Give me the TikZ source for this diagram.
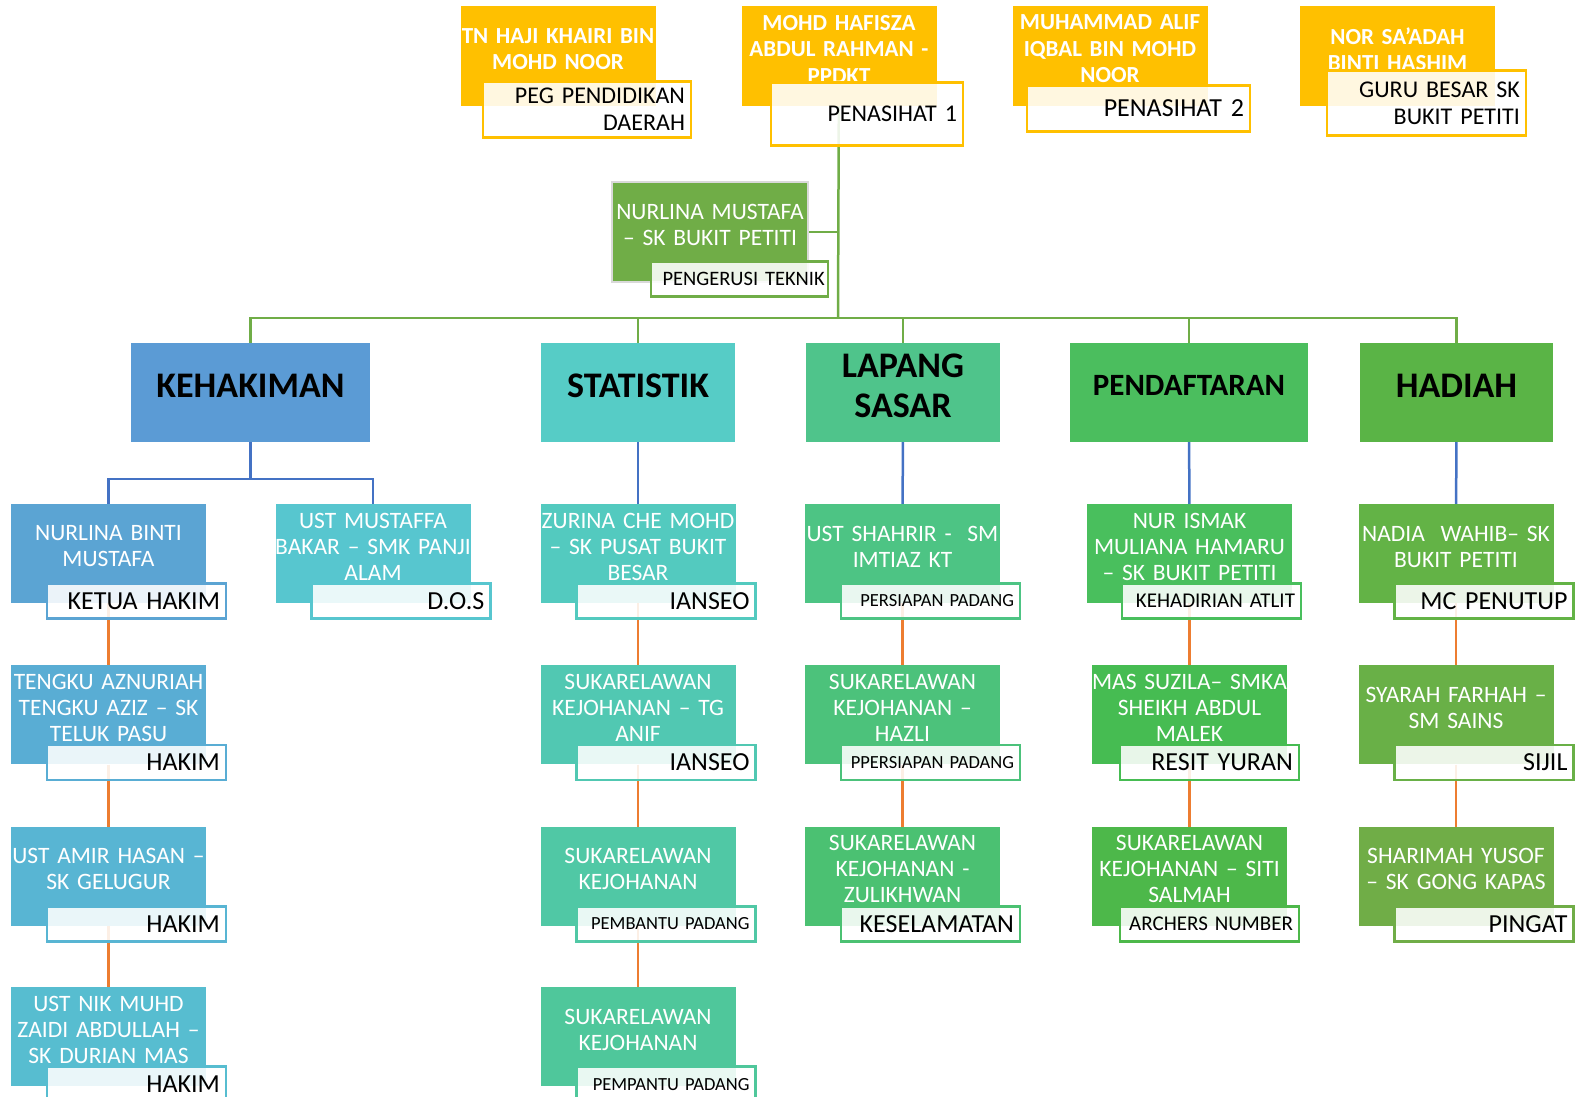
\documentclass[tikz,border=0pt]{standalone}
\usepackage{fontspec}
\setmainfont[WordSpace=0.65]{Carlito}
\usepackage{tikz}
\usetikzlibrary{positioning}
\pgfdeclarelayer{background}
\pgfsetlayers{background,main}

\definecolor{advisor}{HTML}{FFC000}
\definecolor{trunkgreen}{HTML}{70AD47}
\definecolor{branchblue}{HTML}{4472C4}
\definecolor{linkorange}{HTML}{ED7D31}
\definecolor{hKeh}{HTML}{5B9BD5}
\definecolor{hStat}{HTML}{56CCC6}
\definecolor{hLap}{HTML}{4FC48B}
\definecolor{hPend}{HTML}{4BBE5E}
\definecolor{hHad}{HTML}{5AB446}
\definecolor{cA2}{HTML}{5BA4D3}
\definecolor{cA3}{HTML}{59ADD4}
\definecolor{cA4}{HTML}{58B5D3}
\definecolor{cA5}{HTML}{57BDD0}
\definecolor{cB2}{HTML}{57C6CF}
\definecolor{cC2}{HTML}{53CABF}
\definecolor{cC3}{HTML}{51C8B2}
\definecolor{cC4}{HTML}{50C8A5}
\definecolor{cC5}{HTML}{4FC79B}
\definecolor{cD2}{HTML}{4DC484}
\definecolor{cD3}{HTML}{4CC27B}
\definecolor{cD4}{HTML}{4BC172}
\definecolor{cE2}{HTML}{49BF5D}
\definecolor{cE3}{HTML}{46BC52}
\definecolor{cE4}{HTML}{4DB84A}
\definecolor{cF2}{HTML}{63B346}
\definecolor{cF3}{HTML}{69B047}
\definecolor{cF4}{HTML}{70AD47}

\begin{document}
\begin{tikzpicture}[x=1pt, y=-1pt,
    member/.style={fill=#1, minimum width=195pt, minimum height=99pt,
    inner sep=0pt},
    who/.style={text=white, align=center, text width=210pt, inner sep=0pt,
    yshift=7pt, font=\fontsize{23.5}{26}\selectfont},
    adv/.style={who, font=\bfseries\fontsize{23}{26.5}\selectfont},
    unittext/.style={who, text=black, font=\bfseries\fontsize{36}{40}\selectfont},
    tag/.style={draw=#1, line width=2.5pt, fill=white, fill opacity=0.88,
    text opacity=1, minimum height=35pt, inner xsep=6pt, inner ysep=0pt,
    text width=167pt, align=right, font=\fontsize{26}{30}\selectfont},
    tagsmall/.style={font=\fontsize{18.5}{22}\selectfont},
    tagmid/.style={font=\fontsize{21}{25}\selectfont},
    trunk/.style={draw=trunkgreen, line width=2.5pt},
    branch/.style={draw=branchblue, line width=2.5pt},
    link/.style={draw=linkorange, line width=2.5pt}]
    \useasboundingbox (0,0) rectangle (1580,1097);

    % advisors
    \node[member=advisor, minimum height=100pt,
    label={[adv]center:TN HAJI KHAIRI BIN\\MOHD NOOR}] (khairi) at (558,56) {};
    \node[member=advisor, minimum height=100pt,
    label={[adv]center:MOHD HAFISZA\\ABDUL RAHMAN -\\PPDKT}] (ppdkt) at (839,56) {};
    \node[member=advisor, minimum height=100pt,
    label={[adv]center:MUHAMMAD ALIF\\IQBAL BIN MOHD\\NOOR}] (alif) at (1110,56) {};
    \node[member=advisor, minimum height=100pt,
    label={[adv]center:NOR SA’ADAH\\BINTI HASHIM}] (saadah) at (1397.5,56) {};
    \node[tag=advisor, font=\fontsize{24}{27}\selectfont, minimum height=56pt,
    text width=196pt, below left=-26pt and -36.5pt of khairi.south east]
    (khairi-tag) {PEG PENDIDIKAN\\DAERAH};
    \node[tag=advisor, font=\fontsize{24}{27}\selectfont, minimum height=63pt,
    text width=180pt, below left=-25pt and -27.5pt of ppdkt.south east]
    (ppdkt-tag) {PENASIHAT 1};
    \node[tag=advisor, minimum height=46pt, text width=211pt,
    below left=-22pt and -43.5pt of alif.south east] (alif-tag) {PENASIHAT 2};
    \node[tag=advisor, font=\fontsize{24}{27}\selectfont, minimum height=65pt,
    text width=187pt, below left=-37pt and -32pt of saadah.south east]
    (saadah-tag) {GURU BESAR SK\\BUKIT PETITI};

    % technical chair
    \node[member=trunkgreen, draw=black!15, line width=2pt, minimum width=196pt,
    minimum height=100pt,
    label={[who]center:NURLINA MUSTAFA\\– SK BUKIT PETITI}] (teknik) at (710,232) {};
    \node[tag=trunkgreen, font=\fontsize{20.5}{24}\selectfont, inner xsep=3pt,
    text width=171pt, below left=-23pt and -20pt of teknik.south east]
    (teknik-tag) {PENGERUSI TEKNIK};
    \coordinate (bus) at (838,318);

    % units
    \node[member=hKeh, minimum width=239pt, label={[unittext]center:KEHAKIMAN}]
    (keh) at (250.5,392.5) {};
    \node[member=hStat, minimum width=194pt, label={[unittext]center:STATISTIK}]
    (stat) at (638,392.5) {};
    \node[member=hLap, minimum width=194pt, label={[unittext]center:LAPANG\\SASAR}]
    (lap) at (903,392.5) {};
    \node[member=hPend, minimum width=238pt,
    label={[unittext, font=\bfseries\fontsize{31}{36}\selectfont]center:PENDAFTARAN}]
    (pend) at (1189,392.5) {};
    \node[member=hHad, minimum width=193pt, label={[unittext]center:HADIAH}]
    (had) at (1456.5,392.5) {};
    \coordinate (kehsplit) at (250.5,479);

    % kehakiman
    \node[member=cA2, label={[who]center:NURLINA BINTI\\MUSTAFA}] (ketua) at (108.5,553.5) {};
    \node[tag=cA2, below left=-21pt and -21pt of ketua.south east] (ketua-tag) {KETUA HAKIM};
    \node[member=cA3, below=62pt of ketua,
    label={[who]center:TENGKU AZNURIAH\\TENGKU AZIZ – SK\\TELUK PASU}] (hakim1) {};
    \node[tag=cA3, below left=-21pt and -21pt of hakim1.south east] (hakim1-tag) {HAKIM};
    \node[member=cA4, below=62pt of hakim1,
    label={[who]center:UST AMIR HASAN –\\SK GELUGUR}] (hakim2) {};
    \node[tag=cA4, below left=-21pt and -21pt of hakim2.south east] (hakim2-tag) {HAKIM};
    \node[member=cA5, below=61pt of hakim2,
    label={[who]center:UST NIK MUHD\\ZAIDI ABDULLAH –\\SK DURIAN MAS}] (hakim3) {};
    \node[tag=cA5, below left=-21pt and -21pt of hakim3.south east] (hakim3-tag) {HAKIM};
    \node[member=cB2, label={[who]center:UST MUSTAFFA\\BAKAR – SMK PANJI\\ALAM}]
    (dos) at (373,553.5) {};
    \node[tag=cB2, below left=-21pt and -21pt of dos.south east] (dos-tag) {D.O.S};

    % statistik
    \node[member=cC2, label={[who]center:ZURINA CHE MOHD\\– SK PUSAT BUKIT\\BESAR}]
    (ianseo1) at (638,553.5) {};
    \node[tag=cC2, below left=-21pt and -21pt of ianseo1.south east] (ianseo1-tag) {IANSEO};
    \node[member=cC3, below=62pt of ianseo1,
    label={[who]center:SUKARELAWAN\\KEJOHANAN – TG\\ANIF}] (ianseo2) {};
    \node[tag=cC3, below left=-21pt and -21pt of ianseo2.south east] (ianseo2-tag) {IANSEO};
    \node[member=cC4, below=62pt of ianseo2,
    label={[who]center:SUKARELAWAN\\KEJOHANAN}] (pembantu1) {};
    \node[tag=cC4, tagsmall, below left=-21pt and -21pt of pembantu1.south east]
    (pembantu1-tag) {PEMBANTU PADANG};
    \node[member=cC5, below=61pt of pembantu1,
    label={[who]center:SUKARELAWAN\\KEJOHANAN}] (pembantu2) {};
    \node[tag=cC5, tagsmall, below left=-21pt and -21pt of pembantu2.south east]
    (pembantu2-tag) {PEMPANTU PADANG};

    % lapang sasar
    \node[member=cD2, label={[who]center:UST SHAHRIR -~ SM\\IMTIAZ KT}]
    (persiapan1) at (902.5,553.5) {};
    \node[tag=cD2, tagsmall, below left=-21pt and -21pt of persiapan1.south east]
    (persiapan1-tag) {PERSIAPAN PADANG};
    \node[member=cD3, below=62pt of persiapan1,
    label={[who]center:SUKARELAWAN\\KEJOHANAN –\\HAZLI}] (persiapan2) {};
    \node[tag=cD3, tagsmall, below left=-21pt and -21pt of persiapan2.south east]
    (persiapan2-tag) {PPERSIAPAN PADANG};
    \node[member=cD4, below=62pt of persiapan2,
    label={[who]center:SUKARELAWAN\\KEJOHANAN -\\ZULIKHWAN}] (keselamatan) {};
    \node[tag=cD4, below left=-21pt and -21pt of keselamatan.south east]
    (keselamatan-tag) {KESELAMATAN};

    % pendaftaran
    \node[member=cE2, minimum width=205pt,
    label={[who]center:NUR ISMAK\\MULIANA HAMARU\\– SK BUKIT PETITI}]
    (kehadiran) at (1189.5,553.5) {};
    \node[tag=cE2, tagmid, below left=-21pt and -10pt of kehadiran.south east]
    (kehadiran-tag) {KEHADIRIAN ATLIT};
    \node[member=cE3, below=62pt of kehadiran,
    label={[who]center:MAS SUZILA– SMKA\\SHEIKH ABDUL\\MALEK}] (resit) {};
    \node[tag=cE3, below left=-21pt and -13pt of resit.south east] (resit-tag) {RESIT YURAN};
    \node[member=cE4, below=62pt of resit,
    label={[who]center:SUKARELAWAN\\KEJOHANAN – SITI\\SALMAH}] (archers) {};
    \node[tag=cE4, tagmid, below left=-21pt and -13pt of archers.south east]
    (archers-tag) {ARCHERS NUMBER};

    % hadiah
    \node[member=cF2, label={[who]center:NADIA~ WAHIB– SK\\BUKIT PETITI}]
    (mc) at (1456,553.5) {};
    \node[tag=cF2, below left=-21pt and -21pt of mc.south east] (mc-tag) {MC PENUTUP};
    \node[member=cF3, below=62pt of mc,
    label={[who]center:SYARAH FARHAH –\\SM SAINS}] (sijil) {};
    \node[tag=cF3, below left=-21pt and -21pt of sijil.south east] (sijil-tag) {SIJIL};
    \node[member=cF4, below=62pt of sijil,
    label={[who]center:SHARIMAH YUSOF\\– SK GONG KAPAS}] (pingat) {};
    \node[tag=cF4, below left=-21pt and -21pt of pingat.south east] (pingat-tag) {PINGAT};

    \begin{pgfonlayer}{background}
    \draw[trunk] (ppdkt) -- (bus);
    \draw[trunk] (teknik) -- (teknik -| bus);
    \draw[trunk] (keh) |- (bus) -| (had);
    \draw[trunk] (stat) -- (stat |- bus);
    \draw[trunk] (lap) -- (lap |- bus);
    \draw[trunk] (pend) -- (pend |- bus);
    \draw[branch] (keh) -- (kehsplit);
    \draw[branch] (ketua) |- (kehsplit) -| (dos);
    \draw[branch] (stat) -- (ianseo1);
    \draw[branch] (lap) -- (persiapan1);
    \draw[branch] (pend) -- (kehadiran);
    \draw[branch] (had) -- (mc);
    \draw[link] (ketua) -- (hakim1) -- (hakim2) -- (hakim3);
    \draw[link] (ianseo1) -- (ianseo2) -- (pembantu1) -- (pembantu2);
    \draw[link] (persiapan1) -- (persiapan2) -- (keselamatan);
    \draw[link] (kehadiran) -- (resit) -- (archers);
    \draw[link] (mc) -- (sijil) -- (pingat);
    \end{pgfonlayer}
\end{tikzpicture}
\end{document}
